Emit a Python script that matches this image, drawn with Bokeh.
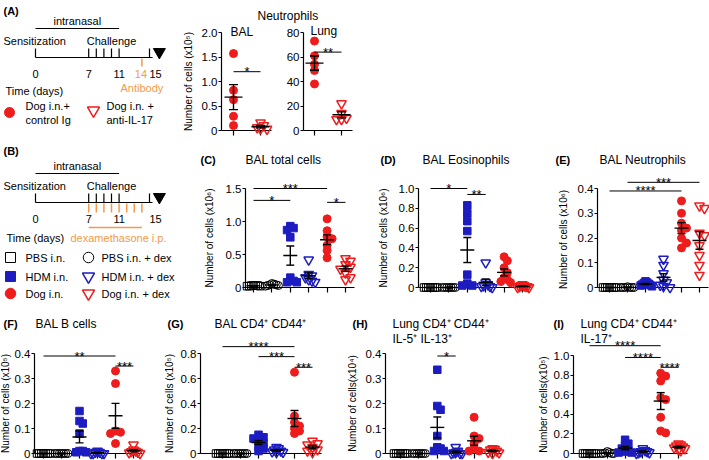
import numpy as np
from bokeh.plotting import figure
from bokeh.models import Range1d, LinearAxis, FixedTicker, CustomJSTickFormatter
from bokeh.core.properties import value
from bokeh.embed import file_html
from bokeh.resources import INLINE

FONT = "Liberation Sans"
BLUE = "#1c1cc0"
RED = "#ee1c1c"
ORANGE = "#f39a4a"

# ---------------- data ----------------
groups = ["PBS i.n.", "PBS i.n. + dex", "HDM i.n.", "HDM i.n. + dex", "Dog i.n.", "Dog i.n. + dex"]

# (A) Neutrophils: Dog i.n. + control Ig / Dog i.n. + anti-IL-17
A_bal_ctrl = [1.57, 0.82, 0.63, 0.29, 0.10]
A_bal_il17 = [0.16, 0.10, 0.06, 0.04, 0.03]
A_lung_ctrl = [73, 61, 54, 49, 38]
A_lung_il17 = [22, 14, 10, 9, 9]
A_bal_ticks = [0, 0.5, 1.0, 1.5, 2.0]
A_lung_ticks = [0, 20, 40, 60, 80]
A_bal_sig = [(1, 2, 1.20, "*")]
A_lung_sig = [(4, 5, 64, "**")]

# (C) BAL total cells (x10^6)
C_pbs = [0.03, 0.02, 0.03, 0.02, 0.03, 0.02, 0.03]
C_pbs_dex = [0.06, 0.05, 0.04, 0.04, 0.03, 0.03, 0.02]
C_hdm = [0.93, 0.90, 0.87, 0.76, 0.15, 0.10, 0.08, 0.08]
C_hdm_dex = [0.42, 0.20, 0.18, 0.15, 0.12, 0.10, 0.08]
C_dog = [1.04, 0.86, 0.77, 0.74, 0.64, 0.56, 0.45]
C_dog_dex = [0.44, 0.40, 0.35, 0.31, 0.28, 0.22, 0.15, 0.12]
C_ticks = [0, 0.5, 1.0, 1.5]
C_sig = [(1, 3, 1.32, "*"), (1, 5, 1.50, "***"), (5, 6, 1.29, "*")]

# (D) BAL Eosinophils (x10^6)
D_pbs = [0, 0, 0, 0, 0, 0, 0]
D_pbs_dex = [0, 0, 0, 0, 0, 0, 0]
D_hdm = [0.83, 0.75, 0.67, 0.57, 0.13, 0.04, 0.02, 0.02]
D_hdm_dex = [0.25, 0.05, 0.03, 0.02, 0.01, 0.01, 0.0]
D_dog = [0.31, 0.27, 0.20, 0.15, 0.10, 0.08, 0.06, 0.05]
D_dog_dex = [0.03, 0.02, 0.02, 0.01, 0.01, 0.01, 0.0, 0.0]
D_ticks = [0, 0.2, 0.4, 0.6, 0.8, 1.0]
D_sig = [(1, 3, 1.00, "*"), (3, 4, 0.94, "**")]

# (E) BAL Neutrophils (x10^6)
E_pbs = [0, 0, 0, 0, 0, 0, 0]
E_pbs_dex = [0.003, 0, 0, 0, 0, 0, 0]
E_hdm = [0.025, 0.02, 0.018, 0.015, 0.012, 0.01, 0.008, 0.005]
E_hdm_dex = [0.115, 0.09, 0.057, 0.03, 0.02, 0.01, 0.005, 0.0]
E_dog = [0.35, 0.30, 0.26, 0.24, 0.23, 0.20, 0.18, 0.16]
E_dog_dex = [0.33, 0.32, 0.22, 0.21, 0.17, 0.13, 0.09, 0.05]
E_ticks = [0, 0.1, 0.2, 0.3, 0.4]
E_sig = [(1, 5, 0.39, "****"), (2, 6, 0.425, "***")]

# (F) BAL B cells (x10^5)
F_pbs = [0, 0, 0, 0, 0, 0, 0]
F_pbs_dex = [0, 0, 0, 0, 0, 0, 0]
F_hdm = [0.17, 0.13, 0.12, 0.08, 0.01, 0.01, 0.005, 0.005]
F_hdm_dex = [0.01, 0.005, 0.005, 0, 0, 0, 0]
F_dog = [0.33, 0.28, 0.09, 0.085, 0.08, 0.04]
F_dog_dex = [0.035, 0.015, 0.01, 0.008, 0.005, 0.003, 0]
F_ticks = [0, 0.1, 0.2, 0.3, 0.4]
F_sig = [(1, 5, 0.39, "**"), (5, 6, 0.35, "***")]

# (G) BAL CD4+ CD44+ (x10^5)
G_pbs = [0, 0, 0, 0, 0, 0, 0]
G_pbs_dex = [0, 0, 0, 0, 0, 0, 0]
G_hdm = [0.15, 0.13, 0.12, 0.10, 0.08, 0.06, 0.04, 0.02]
G_hdm_dex = [0.05, 0.04, 0.03, 0.02, 0.015, 0.01, 0.01]
G_dog = [0.65, 0.30, 0.25, 0.22, 0.20, 0.18, 0.16]
G_dog_dex = [0.10, 0.08, 0.07, 0.05, 0.03, 0.02, 0.01]
G_ticks = [0, 0.2, 0.4, 0.6, 0.8]
G_sig = [(1, 5, 0.855, "****"), (3, 5, 0.775, "***"), (5, 6, 0.69, "***")]

# (H) Lung CD4+ CD44+ IL-5+ IL-13+ (x10^4)
H_pbs = [0, 0, 0, 0, 0, 0, 0]
H_pbs_dex = [0, 0, 0, 0, 0, 0, 0]
H_hdm = [0.335, 0.19, 0.175, 0.07, 0.025, 0.02, 0.01, 0.01]
H_hdm_dex = [0.025, 0.01, 0.005, 0.003, 0, 0, 0]
H_dog = [0.145, 0.07, 0.06, 0.04, 0.02, 0.01, 0.01]
H_dog_dex = [0.02, 0.018, 0.015, 0.01, 0.005, 0.003, 0]
H_ticks = [0, 0.1, 0.2, 0.3, 0.4]
H_sig = [(3, 4, 0.39, "*")]

# (I) Lung CD4+ CD44+ IL-17+ (x10^5)
I_pbs = [0, 0, 0, 0, 0, 0, 0]
I_pbs_dex = [0.02, 0.01, 0.005, 0, 0, 0, 0]
I_hdm = [0.14, 0.10, 0.08, 0.05, 0.03, 0.02, 0.01, 0.01]
I_hdm_dex = [0.05, 0.03, 0.02, 0.02, 0.01, 0.01, 0.0]
I_dog = [0.82, 0.79, 0.74, 0.57, 0.55, 0.37, 0.23, 0.21]
I_dog_dex = [0.10, 0.09, 0.08, 0.07, 0.06, 0.05, 0.04, 0.03]
I_ticks = [0, 0.2, 0.4, 0.6, 0.8, 1.0]
I_sig = [(1, 5, 1.10, "****"), (3, 5, 0.98, "****"), (5, 6, 0.88, "****")]

# timelines (days)
intranasal_days = [0, 11]
challenge_days = [7, 8, 9, 10, 11]
antibody_days = [14]
end_day = 15
dex_days = [7, 8, 9, 10, 11, 12, 13, 14]
dex_bar_days = [7, 14]
A_black_label_days = [0, 7, 11]

# ---------------- layout (canvas pixel frame: x 0..709, y 0..460) ----------------
W, H = 709, 460
LAY = {
    "C": dict(gx=253, sp=18.4, ax=245, y0=287, ppu=66.0, ls=8,
              ylabel="Number of cells (x10\u2076)"),
    "D": dict(gx=430, sp=18.4, ax=418, y0=287, ppu=99.0, ls=7,
              ylabel="Number of cells (x10\u2076)"),
    "E": dict(gx=609, sp=18.0, ax=597, y0=287, ppu=247.5, ls=6,
              ylabel="Number of cells  (x10\u2076)"),
    "F": dict(gx=43, sp=18.0, ax=34, y0=453, ppu=250.0, ls=1,
              ylabel="Number of cells (x10\u2075)"),
    "G": dict(gx=222, sp=18.0, ax=200, y0=453, ppu=125.0, ls=3,
              ylabel="Number of cells (x10\u2075)"),
    "H": dict(gx=400, sp=18.4, ax=385, y0=453, ppu=250.0, ls=5,
              ylabel="Number of cells(x10\u2074)"),
    "I": dict(gx=589, sp=17.8, ax=573, y0=453, ppu=98.0, ls=2,
              ylabel="Number of cells(x10\u2075)"),
}
PANEL_DATA = {
    "C": ([C_pbs, C_pbs_dex, C_hdm, C_hdm_dex, C_dog, C_dog_dex], C_ticks, C_sig),
    "D": ([D_pbs, D_pbs_dex, D_hdm, D_hdm_dex, D_dog, D_dog_dex], D_ticks, D_sig),
    "E": ([E_pbs, E_pbs_dex, E_hdm, E_hdm_dex, E_dog, E_dog_dex], E_ticks, E_sig),
    "F": ([F_pbs, F_pbs_dex, F_hdm, F_hdm_dex, F_dog, F_dog_dex], F_ticks, F_sig),
    "G": ([G_pbs, G_pbs_dex, G_hdm, G_hdm_dex, G_dog, G_dog_dex], G_ticks, G_sig),
    "H": ([H_pbs, H_pbs_dex, H_hdm, H_hdm_dex, H_dog, H_dog_dex], H_ticks, H_sig),
    "I": ([I_pbs, I_pbs_dex, I_hdm, I_hdm_dex, I_dog, I_dog_dex], I_ticks, I_sig),
}
LA = dict(gx=233, sp=27.0, ax=221, y0=130, ppu=49.0, ratio=40.0, lung_ax=303, ls=5)
DAY0, PXD = 35.0, 7.6

TITLES = [
    ("(A)", 3, 10, True), ("(B)", 3, 150, True),
    ("(C)", 200, 159, True), ("BAL total cells", 245, 159, False),
    ("(D)", 380, 159, True), ("BAL Eosinophils", 422, 159, False),
    ("(E)", 555, 159, True), ("BAL Neutrophils", 599, 159, False),
    ("(F)", 3, 323, True), ("BAL B cells", 35, 323, False),
    ("(G)", 167, 323, True), ("BAL CD4\u207a CD44\u207a", 214, 323, False),
    ("(H)", 352, 323, True), ("Lung CD4\u207a CD44\u207a", 392, 323, False),
    ("IL-5\u207a IL-13\u207a", 392, 338, False),
    ("(I)", 553, 323, True), ("Lung CD4\u207a CD44\u207a", 580, 323, False),
    ("IL-17\u207a", 580, 338, False),
    ("Neutrophils", 257, 15, False), ("BAL", 230, 31, False), ("Lung", 310, 30, False),
]

STY = [
    dict(marker="square", size=7.5, fill_color=None, line_color="black", line_width=1),
    dict(marker="circle", size=8, fill_color=None, line_color="black", line_width=1),
    dict(marker="square", size=7.5, fill_color=BLUE, line_color=BLUE, line_width=1),
    dict(marker="inverted_triangle", size=9.5, fill_color=None, line_color=BLUE, line_width=1.5),
    dict(marker="circle", size=8, fill_color=RED, line_color=RED, line_width=1),
    dict(marker="inverted_triangle", size=9.5, fill_color=None, line_color=RED, line_width=1.5),
]

p = figure(width=W, height=H, x_range=Range1d(0, W), y_range=Range1d(H, 0),
           x_axis_location=None, y_axis_location=None, min_border=0,
           toolbar_location=None, output_backend="svg", outline_line_color=None)
p.grid.visible = False

xr, yr = {}, {}
xr["days"] = Range1d((0 - DAY0) / PXD, (W - DAY0) / PXD)
for k, L in LAY.items():
    xr["x" + k] = Range1d(1 + (0 - L["gx"]) / L["sp"], 1 + (W - L["gx"]) / L["sp"])
    yr["y" + k] = Range1d((L["y0"] - H) / L["ppu"], (L["y0"] - 0) / L["ppu"])
xr["xA"] = Range1d(1 + (0 - LA["gx"]) / LA["sp"], 1 + (W - LA["gx"]) / LA["sp"])
yr["yA"] = Range1d((LA["y0"] - H) / LA["ppu"], LA["y0"] / LA["ppu"])
yr["yAL"] = Range1d(LA["ratio"] * (LA["y0"] - H) / LA["ppu"], LA["ratio"] * LA["y0"] / LA["ppu"])
p.extra_x_ranges = xr
p.extra_y_ranges = yr


def txt(x, y, s, size="11px", align="left", baseline="middle", color="black",
        bold=False, xn="default", yn="default", x_offset=0):
    p.text(x=[x], y=[y], text=[s], text_font=value(FONT), text_font_size=size,
           text_align=align, text_baseline=baseline, text_color=color,
           text_font_style="bold" if bold else "normal", x_offset=x_offset,
           x_range_name=xn, y_range_name=yn)


def swarm(vals, ppu, sp, sep=5.0, cap=6.5):
    ys = np.asarray(vals, float) * ppu
    order = np.argsort(-ys, kind="stable")
    cands = [0.0]
    for j in range(1, 14):
        cands += [sep * j, -sep * j]
    placed, offs = [], np.zeros(len(ys))
    for i in order:
        for c in cands:
            if all(abs(c - px) >= sep * 0.99 or abs(ys[i] - py) >= 5 for px, py in placed):
                break
        offs[i] = c
        placed.append((c, ys[i]))
    mx = np.abs(offs).max()
    if mx > cap:
        offs = offs * cap / mx
    return offs / sp


def draw_group(xn, yn, g, vals, sty, ppu, sp, mw=7.0, cw=4.0):
    v = np.asarray(vals, float)
    p.scatter(x=g + swarm(v, ppu, sp), y=v, x_range_name=xn, y_range_name=yn, **sty)
    m = v.mean()
    s = v.std(ddof=1) / np.sqrt(len(v))
    x0 = [g - mw / sp, g, g - cw / sp, g - cw / sp]
    x1 = [g + mw / sp, g, g + cw / sp, g + cw / sp]
    y0 = [m, m - s, m - s, m + s]
    y1 = [m, m + s, m - s, m + s]
    p.segment(x0=x0, y0=y0, x1=x1, y1=y1, line_color="black", line_width=1.4,
              x_range_name=xn, y_range_name=yn)


def draw_sig(xn, yn, sig):
    for i, j, lvl, stars in sig:
        p.segment(x0=[i], y0=[lvl], x1=[j], y1=[lvl], line_color="black", line_width=1,
                  x_range_name=xn, y_range_name=yn)
        txt((i + j) / 2, lvl, stars, size="13px", align="center", baseline="middle",
            xn=xn, yn=yn)


num_fmt = CustomJSTickFormatter(code="return tick == 0 ? '0' : tick.toFixed(1);")
blank_fmt = CustomJSTickFormatter(code="return '';")


def y_axis(xn, yn, loc, ticks, label, fmt, ls):
    ax = LinearAxis(x_range_name=xn, y_range_name=yn, fixed_location=loc,
                    bounds=(ticks[0], ticks[-1]), ticker=FixedTicker(ticks=ticks),
                    formatter=fmt, axis_label=label,
                    axis_label_text_font=FONT, axis_label_text_font_size="10px",
                    axis_label_text_font_style="normal", axis_label_text_color="black",
                    axis_label_standoff=ls,
                    major_label_text_font=FONT, major_label_text_font_size="11.5px",
                    major_label_text_color="black", major_label_standoff=1,
                    major_tick_in=0, major_tick_out=3, minor_tick_in=0, minor_tick_out=0,
                    axis_line_width=1.2, major_tick_line_width=1.2,
                    axis_line_color="black", major_tick_line_color="black")
    p.add_layout(ax, "left")


def x_axis(xn, yn, start, end, ticks):
    ax = LinearAxis(x_range_name=xn, y_range_name=yn, fixed_location=0,
                    bounds=(start, end), ticker=FixedTicker(ticks=ticks),
                    formatter=blank_fmt, major_label_text_font_size="1px",
                    major_tick_in=0, major_tick_out=5, minor_tick_in=0, minor_tick_out=0,
                    axis_line_width=1.2, major_tick_line_width=1.2,
                    axis_line_color="black", major_tick_line_color="black",
                    level="underlay")
    p.add_layout(ax, "below")


# ---------------- panels C..I ----------------
for k, L in LAY.items():
    series, ticks, sig = PANEL_DATA[k]
    xn, yn = "x" + k, "y" + k
    axloc = 1 + (L["ax"] - L["gx"]) / L["sp"]
    x_axis(xn, yn, axloc, len(series) + 0.5, list(range(1, len(series) + 1)))
    y_axis(xn, yn, axloc, ticks, L["ylabel"], num_fmt, L["ls"])
    for gi, vals in enumerate(series):
        draw_group(xn, yn, gi + 1, vals, STY[gi], L["ppu"], L["sp"])
    draw_sig(xn, yn, sig)

# ---------------- panel A charts ----------------
a_loc = 1 + (LA["ax"] - LA["gx"]) / LA["sp"]
lung_loc = 1 + (LA["lung_ax"] - LA["gx"]) / LA["sp"]
x_axis("xA", "yA", a_loc, 2.4, [1, 2])
x_axis("xA", "yA", lung_loc, 5.4, [4, 5])
y_axis("xA", "yA", a_loc, A_bal_ticks, "Number of cells (x10\u2075)", num_fmt, LA["ls"])
y_axis("xA", "yAL", lung_loc, A_lung_ticks, "", CustomJSTickFormatter(code="return tick.toFixed(0);"), 0)
draw_group("xA", "yA", 1, A_bal_ctrl, STY[4], LA["ppu"], LA["sp"], mw=9, cw=4.5)
draw_group("xA", "yA", 2, A_bal_il17, STY[5], LA["ppu"], LA["sp"], mw=9, cw=4.5)
draw_group("xA", "yAL", 4, A_lung_ctrl, STY[4], LA["ppu"] / LA["ratio"], LA["sp"], mw=9, cw=4.5)
draw_group("xA", "yAL", 5, A_lung_il17, STY[5], LA["ppu"] / LA["ratio"], LA["sp"], mw=9, cw=4.5)
draw_sig("xA", "yA", A_bal_sig)
draw_sig("xA", "yAL", A_lung_sig)

# ---------------- titles ----------------
for s, x, y, b in TITLES:
    txt(x, y, s, size="11px" if b else "12px", bold=b)


# ---------------- timelines ----------------
def timeline(T, orange_days, orange_down):
    txt(sum(intranasal_days) / 2, T - 37, "intranasal", align="center", xn="days")
    p.segment(x0=[intranasal_days[0]], x1=[intranasal_days[1]], y0=[T - 29], y1=[T - 29],
              line_color="black", line_width=1.2, x_range_name="days")
    txt(3, T - 17, "Sensitization")
    txt(challenge_days[2] + 1, T - 17, "Challenge", align="center", xn="days")
    p.segment(x0=[0], x1=[end_day + 0.4], y0=[T], y1=[T], line_color="black",
              line_width=1.2, x_range_name="days")
    tick_days = [0] + challenge_days + [end_day]
    p.segment(x0=tick_days, x1=tick_days, y0=[T - 9] * len(tick_days), y1=[T] * len(tick_days),
              line_color="black", line_width=1.2, x_range_name="days")
    p.segment(x0=orange_days, x1=orange_days, y0=[T + 1] * len(orange_days),
              y1=[T + orange_down] * len(orange_days),
              line_color=ORANGE, line_width=1.5, x_range_name="days")
    p.scatter(x=[end_day + 1.3], y=[T - 5.5], marker="inverted_triangle", size=12,
              fill_color="black", line_color="black", x_range_name="days")
    for d in A_black_label_days:
        txt(d, T + 16.5, str(d), align="center", xn="days")
    txt(end_day, T + 16.5, str(end_day), align="center", xn="days", x_offset=6)


timeline(57, antibody_days, 9)
txt(antibody_days[0], 73.5, str(antibody_days[0]), align="center", xn="days", color=ORANGE,
    x_offset=-1)
txt(antibody_days[0], 87, "Antibody", align="center", xn="days", color=ORANGE)
txt(5, 90, "Time (days)")
p.scatter(x=[9], y=[112], marker="circle", size=10, fill_color=RED, line_color=RED)
txt(25, 105, "Dog i.n.+")
txt(25, 119, "control Ig")
p.scatter(x=[93], y=[110], marker="inverted_triangle", size=12, fill_color=None,
          line_color=RED, line_width=1.5)
txt(106, 105, "Dog i.n. +")
txt(106, 119, "anti-IL-17")

timeline(202, dex_days, 10)
p.segment(x0=[dex_bar_days[0]], x1=[dex_bar_days[1]], y0=[227], y1=[227],
          line_color=ORANGE, line_width=1.5, x_range_name="days")
txt(6, 237, "Time (days)")
txt(70, 237, "dexamethasone i.p.", color=ORANGE)
leg_rows = [257, 276, 293]
for r in range(3):
    for c, (mx, tx) in enumerate([(10, 25), (88, 101)]):
        gi = 2 * r + c
        sty = dict(STY[gi])
        sty["size"] = sty["size"] + 2.5
        p.scatter(x=[mx], y=[leg_rows[r]], **sty)
        txt(tx, leg_rows[r], groups[gi])

open("out.html", "w").write(file_html(p, INLINE, title="Figure"))
